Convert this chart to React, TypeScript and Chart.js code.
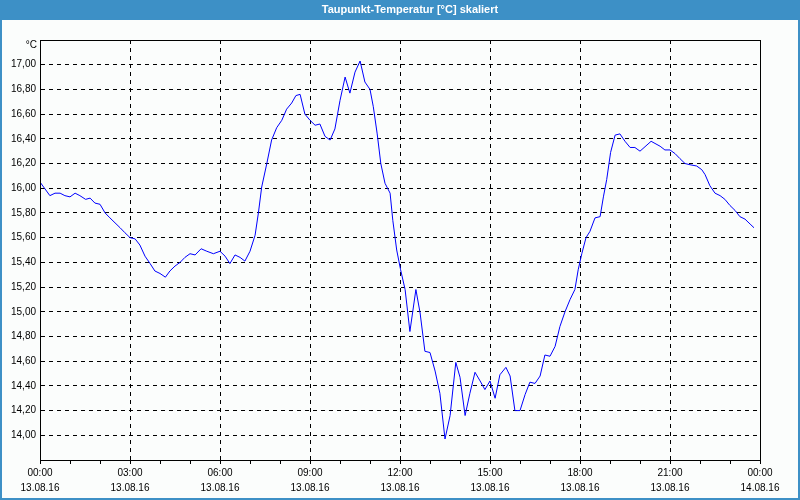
import { useEffect, useRef } from 'react';
import { Chart, registerables } from 'chart.js';

Chart.register(...registerables);

const TITLE = 'Taupunkt-Temperatur [°C] skaliert';
const UNIT = '°C';

// hours since 13.08.16 00:00
const hours = [
  0.0, 0.33, 0.5, 0.67, 0.83, 1.0, 1.17, 1.33, 1.52, 1.67, 1.83, 2.0, 2.17, 2.33, 2.5, 2.67, 2.83, 3.0,
  3.17, 3.33, 3.5, 3.67, 3.83, 4.0, 4.18, 4.33, 4.5, 4.67, 4.83, 5.0, 5.17, 5.37, 5.56, 5.78, 6.0,
  6.17, 6.33, 6.5, 6.67, 6.83, 7.0, 7.17, 7.28, 7.39, 7.56, 7.72, 7.89, 8.06, 8.22, 8.39, 8.53, 8.67,
  8.83, 9.0, 9.17, 9.33, 9.5, 9.67, 9.83, 10.0, 10.17, 10.33, 10.5, 10.67, 10.83, 11.0, 11.11, 11.24,
  11.36, 11.5, 11.67, 11.76, 11.89, 12.02, 12.17, 12.33, 12.53, 12.67, 12.83, 13.0, 13.17, 13.33,
  13.5, 13.67, 13.86, 14.0, 14.17, 14.33, 14.5, 14.67, 14.83, 15.0, 15.17, 15.33, 15.53, 15.67,
  15.83, 16.0, 16.17, 16.33, 16.5, 16.67, 16.83, 17.0, 17.17, 17.33, 17.5, 17.67, 17.83, 17.94,
  18.06, 18.2, 18.33, 18.5, 18.67, 18.78, 18.89, 19.02, 19.17, 19.33, 19.5, 19.67, 19.83, 20.0,
  20.37, 20.67, 20.83, 21.0, 21.17, 21.33, 21.5, 21.67, 21.89, 22.06, 22.17, 22.33, 22.5, 22.67,
  22.83, 23.0, 23.17, 23.33, 23.5, 23.67, 23.8,
];

const dewPoint = [
  16.05, 15.94, 15.96, 15.96, 15.94, 15.93, 15.96, 15.94, 15.91, 15.92, 15.88, 15.87, 15.8, 15.76, 15.72, 15.68, 15.64, 15.6,
  15.59, 15.54, 15.45, 15.39, 15.33, 15.31, 15.28, 15.33, 15.37, 15.4, 15.44, 15.47, 15.46, 15.51, 15.49, 15.47, 15.49,
  15.45, 15.39, 15.46, 15.44, 15.41, 15.49, 15.62, 15.8, 16.01, 16.2, 16.39, 16.49, 16.55, 16.64, 16.69, 16.75, 16.76,
  16.6, 16.55, 16.51, 16.52, 16.42, 16.39, 16.48, 16.71, 16.9, 16.77, 16.94, 17.03, 16.86, 16.8, 16.66, 16.44,
  16.2, 16.04, 15.96, 15.74, 15.5, 15.34, 15.18, 14.84, 15.18, 14.99, 14.68, 14.67, 14.52, 14.34,
  13.97, 14.16, 14.59, 14.47, 14.16, 14.34, 14.51, 14.44, 14.37, 14.44, 14.3, 14.49, 14.55, 14.48,
  14.2, 14.2, 14.33, 14.43, 14.42, 14.48, 14.65, 14.64, 14.72, 14.88, 15.0, 15.1, 15.18, 15.34,
  15.47, 15.6, 15.65, 15.76, 15.77, 15.93, 16.07, 16.29, 16.43, 16.44, 16.38, 16.33, 16.33, 16.3,
  16.38, 16.34, 16.31, 16.31, 16.28, 16.24, 16.2, 16.19, 16.18, 16.15, 16.11, 16.02, 15.96, 15.94,
  15.91, 15.86, 15.82, 15.77, 15.75, 15.71, 15.68,
];

const xTickHours = [0, 3, 6, 9, 12, 15, 18, 21, 24];
const xTickTimes = ['00:00', '03:00', '06:00', '09:00', '12:00', '15:00', '18:00', '21:00', '00:00'];
const xTickDates = ['13.08.16', '13.08.16', '13.08.16', '13.08.16', '13.08.16', '13.08.16', '13.08.16', '13.08.16', '14.08.16'];

const Y_MIN = 13.8;
const Y_MAX = 17.2;

const BG = '#fbfdfc';
const BLUE = '#3d90c6';
const FONT = '"Liberation Sans", Arial, sans-serif';

const framePlugin = {
  id: 'frame',
  beforeDraw(chart: any) {
    const { ctx, width, height } = chart;
    ctx.save();
    ctx.fillStyle = BG;
    ctx.fillRect(0, 0, width, height);
    ctx.fillStyle = BLUE;
    ctx.fillRect(0, 0, width, 20);
    ctx.fillRect(0, 0, 2, height);
    ctx.fillRect(width - 2, 0, 2, height);
    ctx.fillRect(0, height - 2, width, 2);
    ctx.fillStyle = '#ffffff';
    ctx.font = `bold 11px ${FONT}`;
    ctx.textAlign = 'center';
    ctx.textBaseline = 'middle';
    ctx.fillText(TITLE, 410, 10);
    ctx.restore();
  },
  afterDraw(chart: any) {
    const { ctx, chartArea: a } = chart;
    ctx.save();
    ctx.strokeStyle = '#000';
    ctx.lineWidth = 1;
    ctx.setLineDash([]);
    ctx.strokeRect(a.left + 0.5, a.top + 0.5, a.right - a.left, a.bottom - a.top);
    ctx.fillStyle = '#000';
    ctx.font = `10px ${FONT}`;
    ctx.textAlign = 'right';
    ctx.textBaseline = 'middle';
    ctx.fillText(UNIT, a.left - 3, a.top + 5);
    ctx.restore();
  },
};

export default function App() {
  const ref = useRef<HTMLCanvasElement | null>(null);

  useEffect(() => {
    if (!ref.current) return;
    const points = hours.map((h, i) => ({ x: h, y: dewPoint[i] }));
    const chart = new Chart(ref.current, {
      type: 'line',
      data: {
        datasets: [
          {
            data: points,
            borderColor: '#0000ff',
            borderWidth: 1,
            pointRadius: 0,
            tension: 0,
            fill: false,
          },
        ],
      },
      plugins: [framePlugin],
      options: {
        animation: false,
        responsive: false,
        events: [],
        layout: { padding: { top: 40, right: 40, left: 0, bottom: 0 } },
        plugins: {
          legend: { display: false },
          title: { display: false },
          tooltip: { enabled: false },
        },
        scales: {
          x: {
            type: 'linear',
            min: 0,
            max: 24,
            afterFit: (s: any) => {
              s.height = 40;
            },
            ticks: {
              stepSize: 1,
              autoSkip: false,
              maxRotation: 0,
              padding: 2,
              color: '#000',
              font: { family: FONT, size: 10, lineHeight: 1.5 },
              callback: (v: any) => {
                const i = xTickHours.indexOf(Number(v));
                return i >= 0 ? [xTickTimes[i], xTickDates[i]] : '';
              },
            },
            grid: {
              color: (c: any) => (c.tick && Math.round(c.tick.value) % 3 === 0 ? '#000' : 'rgba(0,0,0,0)'),
              tickColor: '#000',
              tickLength: 4,
              lineWidth: 1,
            },
            border: { display: true, color: '#000', dash: [4, 4] },
          },
          y: {
            type: 'linear',
            min: Y_MIN,
            max: Y_MAX,
            afterFit: (s: any) => {
              s.width = 40;
            },
            ticks: {
              stepSize: 0.2,
              padding: 4,
              color: '#000',
              font: { family: FONT, size: 10 },
              callback: (v: any) => {
                const n = Number(v);
                return n > 13.9 && n < 17.1 ? n.toFixed(2).replace('.', ',') : '';
              },
            },
            grid: {
              color: (c: any) =>
                c.tick && c.tick.value > 13.9 && c.tick.value < 17.1 ? '#000' : 'rgba(0,0,0,0)',
              drawTicks: false,
              lineWidth: 1,
            },
            border: { display: true, color: '#000', dash: [4, 4] },
          },
        },
      },
    } as any);
    return () => chart.destroy();
  }, []);

  return (
    <div style={{ position: 'fixed', left: 0, top: 0, width: 800, height: 500 }}>
      <canvas ref={ref} width={800} height={500} style={{ display: 'block' }} />
    </div>
  );
}
